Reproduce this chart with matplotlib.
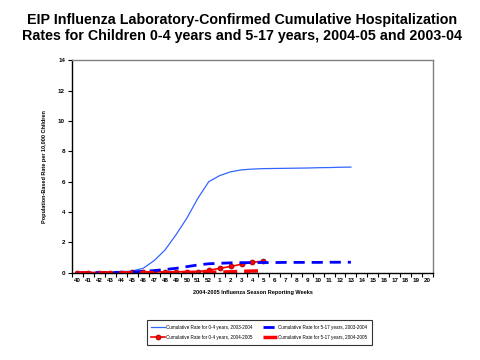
import matplotlib
matplotlib.use("Agg")
import matplotlib.pyplot as plt
import numpy as np

plt.rcParams['font.family'] = ['Liberation Sans', 'DejaVu Sans']

weeks = [str(w) for w in list(range(40, 53)) + list(range(1, 21))]

rate_04_0304 = [0.02, 0.03, 0.04, 0.05, 0.07, 0.12, 0.3, 0.8, 1.5, 2.5, 3.6, 4.9, 6.0,
                6.4, 6.65, 6.78, 6.83, 6.86, 6.87, 6.88, 6.89, 6.9, 6.92, 6.93, 6.95, 6.96]
rate_517_0304 = [0.01, 0.02, 0.02, 0.03, 0.04, 0.06, 0.1, 0.15, 0.22, 0.3, 0.41, 0.52, 0.6,
                 0.63, 0.66, 0.67, 0.68, 0.68, 0.68, 0.69, 0.69, 0.69, 0.69, 0.7, 0.7, 0.7]
rate_04_0405 = [0.02, 0.02, 0.02, 0.02, 0.02, 0.03, 0.04, 0.07, 0.07, 0.07, 0.08, 0.09, 0.17,
                0.3, 0.42, 0.57, 0.7, 0.77]
rate_517_0405 = [0.0, 0.0, 0.0, 0.0, 0.0, 0.0, 0.01, 0.01, 0.01, 0.02, 0.02, 0.03, 0.04,
                 0.05, 0.07, 0.1, 0.12, 0.13]

labels = ["Cumulative Rate for 0-4 years, 2003-2004",
          "Cumulative Rate for 0-4 years, 2004-2005",
          "Cumulative Rate for 5-17 years, 2003-2004",
          "Cumulative Rate for 5-17 years, 2004-2005"]

fig = plt.figure(figsize=(4.8, 3.6), dpi=100)
ax = fig.add_axes([0.15, 0.242, 0.752, 0.591])

x = np.arange(len(weeks))
l1, = ax.plot(x[:len(rate_04_0304)], rate_04_0304, color='#3366FF', lw=0.9)
l2, = ax.plot(x[:len(rate_04_0405)], rate_04_0405, color='#FF0000', lw=1.2,
              marker='o', ms=3.5, mfc='#FF0000', mec='#990000', mew=0.6)
l3, = ax.plot(x[:len(rate_517_0304)], rate_517_0304, color='#0000FF', lw=2.0,
              dashes=(4, 2.5))
l4, = ax.plot(x[:len(rate_517_0405)], rate_517_0405, color='#FF0000', lw=2.5,
              dashes=(4, 2))

ax.set_xlim(-0.5, len(weeks) - 0.5)
ax.set_ylim(0, 14)
ax.set_yticks(range(0, 15, 2))
ax.set_xticks(x)
ax.set_xticklabels(weeks, fontsize=4.5, fontweight='bold', fontstretch='condensed')
ax.set_xticks(np.arange(-0.5, len(weeks), 1), minor=True)
ax.tick_params(axis='x', which='major', length=0, pad=4)
ax.tick_params(axis='x', which='minor', length=3, width=0.8, direction='out')
ax.tick_params(axis='y', labelsize=4.5, length=3, width=0.8, direction='out', pad=2)
for t in ax.get_yticklabels():
    t.set_fontweight('bold')

for s in ['top', 'right']:
    ax.spines[s].set_color('#808080')
    ax.spines[s].set_linewidth(1.0)
for s in ['left', 'bottom']:
    ax.spines[s].set_color('black')
    ax.spines[s].set_linewidth(1.0)

ax.set_ylabel("Population-Based Rate per 10,000 Children", fontsize=4, fontweight='bold', labelpad=8)
ax.set_xlabel("2004-2005 Influenza Season Reporting Weeks", fontsize=4, fontweight='bold', labelpad=5)

fig.text(0.505, 0.965,
         "EIP Influenza Laboratory-Confirmed Cumulative Hospitalization\n"
         "Rates for Children 0-4 years and 5-17 years, 2004-05 and 2003-04",
         ha='center', va='top', fontsize=10.3, fontweight='bold', linespacing=1.2)

leg = fig.legend([l1, l2, l3, l4], labels, loc='center', ncol=2,
                 bbox_to_anchor=(0.54, 0.077), fontsize=3.3, frameon=True,
                 fancybox=False, edgecolor='black', handlelength=3.0,
                 handletextpad=0.3, columnspacing=2.2, borderpad=1.0, labelspacing=1.2)
leg.get_frame().set_linewidth(0.8)

fig.savefig("out.png", dpi=100)
